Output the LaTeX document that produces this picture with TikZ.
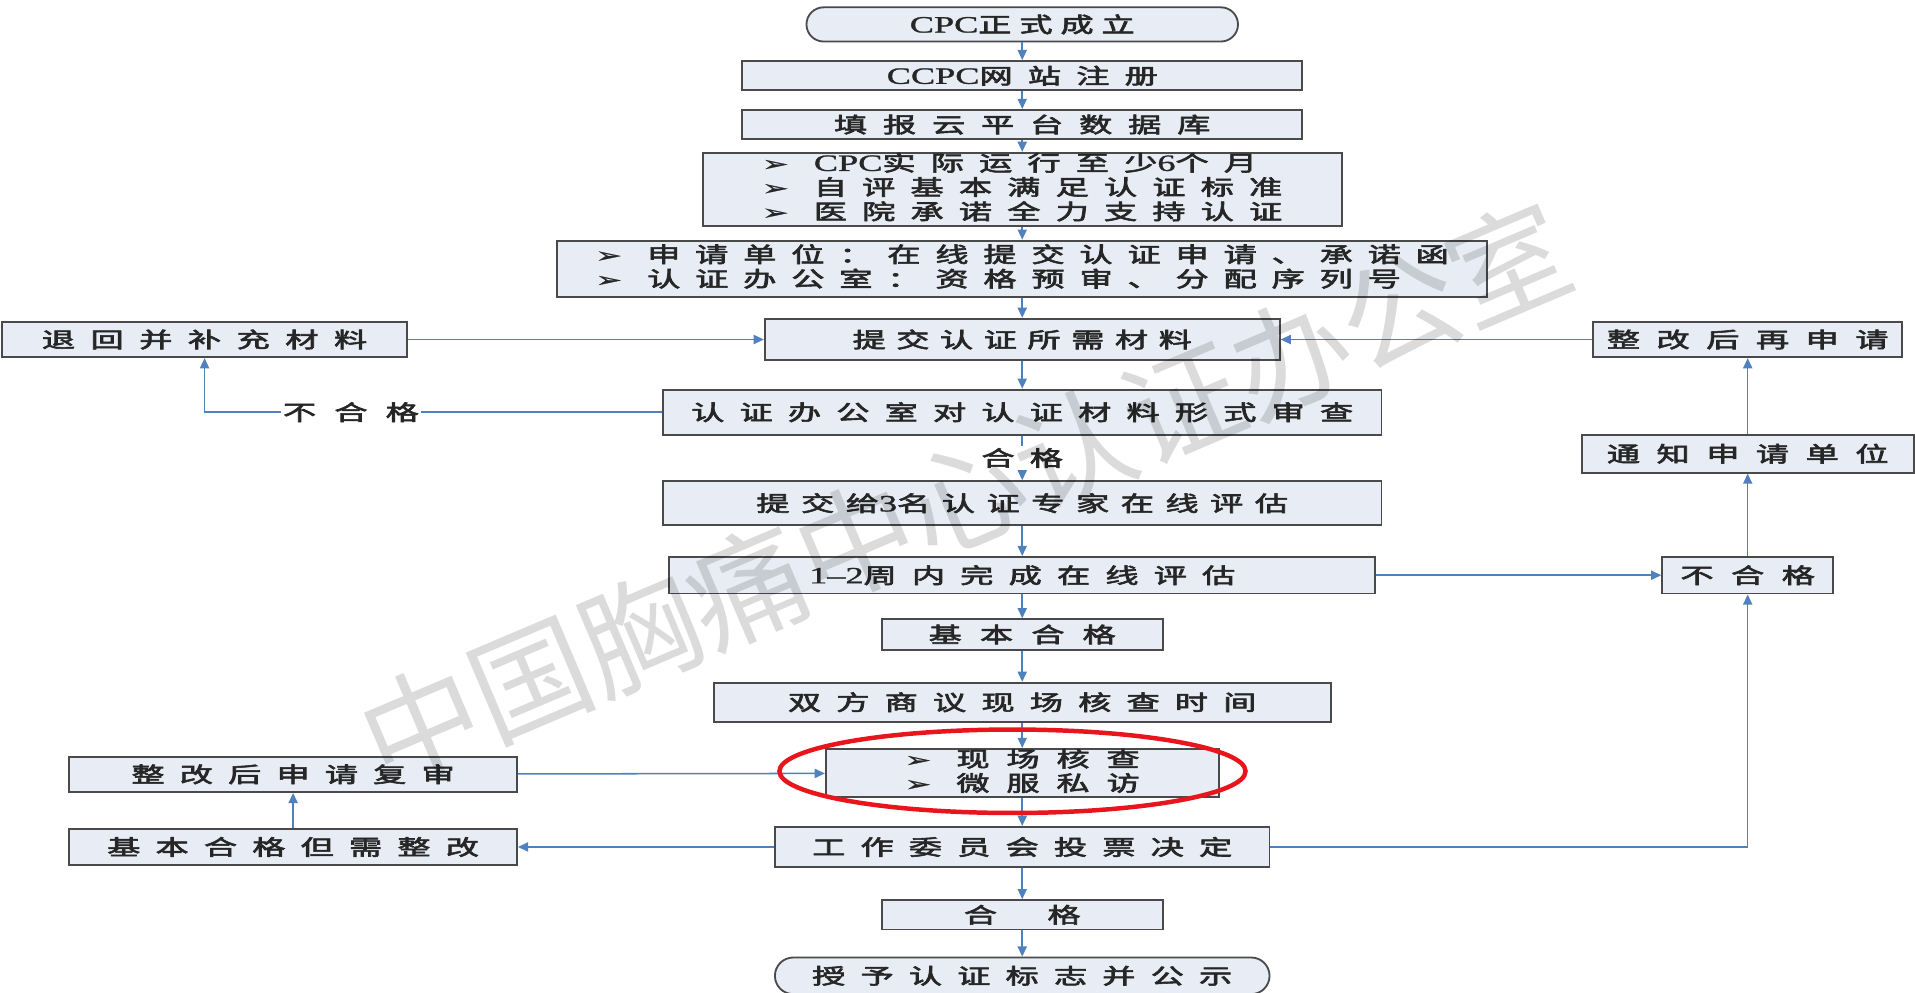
\documentclass[tikz,border=0pt]{standalone}
\usepackage{fontspec}
\usepackage{graphicx}
\usepackage{tikz}
\usetikzlibrary{arrows.meta,shapes.geometric}
\newfontfamily\cjk{Noto Sans CJK SC}[FakeBold=2.5,LetterSpace=46]
\newfontfamily\latf{Liberation Serif}[FakeBold=1]
\newfontfamily\wmfont{Noto Sans CJK SC}
\newfontfamily\symf{DejaVu Sans}[FakeBold=1]
\definecolor{boxfill}{HTML}{E8EDF5}
\definecolor{boxline}{HTML}{4A4A4A}
\definecolor{linkblue}{HTML}{4F81BD}
\definecolor{ringred}{HTML}{E8161C}
\newcommand{\wtxt}[1]{\scalebox{1.55}[1]{#1}}
\newcommand{\bul}{{\symf\fontsize{10}{10}\selectfont ➢}\hspace{8pt}}
\newcommand{\lat}[1]{{\latf\fontsize{11.5}{10}\selectfont #1}}
\newcommand{\lines}[1]{\wtxt{\begin{tabular}{@{}l@{}}#1\end{tabular}}}
\tikzset{
	box/.style 2 args={rectangle,draw=boxline,fill=boxfill,line width=0.9pt,minimum width=#1,minimum height=#2,inner sep=0pt,font=\cjk\fontsize{10.5}{10.2}\selectfont,text=black!85},
	gap/.style={font=\cjk\fontsize{10.5}{10.2}\selectfont\addfontfeature{LetterSpace=#1}},
	arr/.style={draw=linkblue,line width=0.75pt,-{Triangle[length=5pt,width=4.5pt]}},
	tag/.style={fill=white,inner sep=1pt,font=\cjk\fontsize{10.5}{10.2}\selectfont,text=black!85},
	ring/.style={ellipse,draw=ringred,line width=2.2pt,minimum width=229pt,minimum height=41pt},
	wmark/.style={font=\wmfont\fontsize{58}{62}\selectfont,text=black,text opacity=0.14}
}

\begin{document}
\begin{tikzpicture}[x=0.6pt,y=-0.6pt]
	\useasboundingbox (0,0) rectangle (1568,813);

	% main chain
	\node [box={212pt}{16.8pt},rounded corners=8.4pt,gap=24] (start) at (837,20) {\wtxt{\lat{CPC}正式成立}};
	\node [box={275pt}{14.4pt}] (ccpc) at (837,62) {\wtxt{\lat{CCPC}网站注册}};
	\node [box={275pt}{14.4pt},gap=48] (tianbao) at (837,102) {\wtxt{填报云平台数据库}};
	\node [box={314pt}{33pt}] (tiaojian) at (837,155) {\lines{\bul \lat{CPC}实际运行至少\lat{6}个月\\ \bul 自评基本满足认证标准\\ \bul 医院承诺全力支持认证}};
	\node [box={457pt}{27.6pt},gap=45] (shenqing) at (837,220) {\lines{\bul 申请单位：在线提交认证申请、承诺函\\ \bul 认证办公室：资格预审、分配序列号}};
	\node [box={253pt}{20.4pt},gap=32] (tijiao) at (837,278) {\wtxt{提交认证所需材料}};
	\node [box={353pt}{22.2pt}] (shencha) at (837,337.5) {\wtxt{认证办公室对认证材料形式审查}};
	\node [box={353pt}{21.6pt},gap=35] (zhuanjia) at (837,412) {\wtxt{提交给\lat{3}名认证专家在线评估}};
	\node [box={347pt}{18pt}] (pinggu) at (837,471) {\wtxt{\lat{1–2}周内完成在线评估}};
	\node [box={138pt}{15pt},gap=55] (jiben) at (837,519.5) {\wtxt{基本合格}};
	\node [box={303pt}{19.2pt}] (shangyi) at (837,575) {\wtxt{双方商议现场核查时间}};
	\node [box={193pt}{23.4pt},gap=51] (xianchang) at (837,633) {\lines{\bul 现场核查\\ \bul 微服私访}};
	\node [box={243pt}{19.8pt}] (weiyuan) at (837,693.5) {\wtxt{工作委员会投票决定}};
	\node [box={138pt}{14.4pt}] (hege) at (837,749) {\wtxt{合\hspace{16pt}格}};
	\node [box={243pt}{18pt},rounded corners=9pt] (shouyu) at (837,799) {\wtxt{授予认证标志并公示}};

	% side boxes
	\node [box={199pt}{17.4pt},gap=47] (tuihui) at (167.5,278) {\wtxt{退回并补充材料}};
	\node [box={152pt}{17.4pt},gap=50] (zaishen) at (1431,278) {\wtxt{整改后再申请}};
	\node [box={163pt}{18.6pt},gap=50] (tongzhi) at (1431,371.5) {\wtxt{通知申请单位}};
	\node [box={84pt}{18pt},gap=53] (buhege) at (1431,471) {\wtxt{不合格}};
	\node [box={220pt}{17.4pt}] (fushen) at (240,634) {\wtxt{整改后申请复审}};
	\node [box={220pt}{17.4pt}] (zhenggai) at (240,693.5) {\wtxt{基本合格但需整改}};

	\draw [arr] (start) -- (ccpc);
	\draw [arr] (ccpc) -- (tianbao);
	\draw [arr] (tianbao) -- (tiaojian);
	\draw [arr] (tiaojian) -- (shenqing);
	\draw [arr] (shenqing) -- (tijiao);
	\draw [arr] (tijiao) -- (shencha);
	\draw [arr] (shencha) -- (zhuanjia) node [midway,tag] {\wtxt{合格}};
	\draw [arr] (zhuanjia) -- (pinggu);
	\draw [arr] (pinggu) -- (jiben);
	\draw [arr] (jiben) -- (shangyi);
	\draw [arr] (shangyi) -- (xianchang);
	\draw [arr] (xianchang) -- (weiyuan);
	\draw [arr] (weiyuan) -- (hege);
	\draw [arr] (hege) -- (shouyu);

	\draw [arr] (tuihui) -- (tijiao);
	\draw [arr] (zaishen) -- (tijiao);
	\draw [arr] (shencha.west) -| (tuihui.south) node [pos=0.34,tag,gap=55] {\wtxt{不合格}};
	\draw [arr] (pinggu) -- (buhege);
	\draw [arr] (buhege) -- (tongzhi);
	\draw [arr] (tongzhi) -- (zaishen);
	\draw [arr] (weiyuan.east) -| (buhege.south);
	\draw [arr] (weiyuan) -- (zhenggai);
	\draw [arr] (zhenggai) -- (fushen);
	\draw [arr] (fushen) -- (xianchang);

	\node [ring] (ring) at (829,631.5) {};
	\node [wmark,rotate=23] (wm) at (790,405) {中国胸痛中心认证办公室};
\end{tikzpicture}
\end{document}
